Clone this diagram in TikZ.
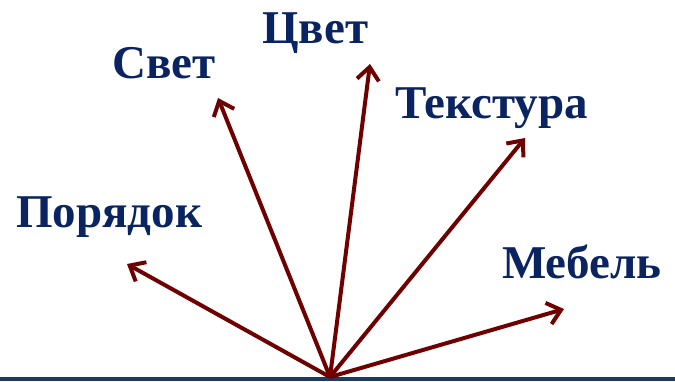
\documentclass[tikz,border=0pt]{standalone}
\usepackage{fontspec}
\setmainfont{Liberation Serif}
\usetikzlibrary{arrows.meta}
\definecolor{labelblue}{HTML}{0A2461}
\definecolor{arrowred}{HTML}{6E0000}
\definecolor{baseblue}{HTML}{1F3A5F}
\tikzset{
  lbl/.style={anchor=base west, inner sep=0pt, text=labelblue, font=\fontsize{47}{50}\selectfont\bfseries},
  ray/.style={draw=arrowred, line width=4pt, -{Straight Barb[length=13pt,width=22pt]}}
}
\begin{document}
\begin{tikzpicture}[x=1pt,y=-1pt]
\useasboundingbox (0,0) rectangle (675,381);
\fill[baseblue] (0,377) rectangle (675,381);
\coordinate (o) at (330,377);
\coordinate (tPor) at (127,264);
\coordinate (tSvet) at (218,98);
\coordinate (tCvet) at (370,64);
\coordinate (tTex) at (525,138);
\coordinate (tMeb) at (564,309);
\node[lbl] (svet) at (112,78) {Свет};
\node[lbl] (cvet) at (262,43) {Цвет};
\node[lbl] (tex) at (395,118) {Текстура};
\node[lbl] (por) at (16,227) {Порядок};
\node[lbl] (meb) at (502,278) {Мебель};
\draw[ray] (o) -- (tPor);
\draw[ray] (o) -- (tSvet);
\draw[ray] (o) -- (tCvet);
\draw[ray] (o) -- (tTex);
\draw[ray] (o) -- (tMeb);
\end{tikzpicture}
\end{document}
